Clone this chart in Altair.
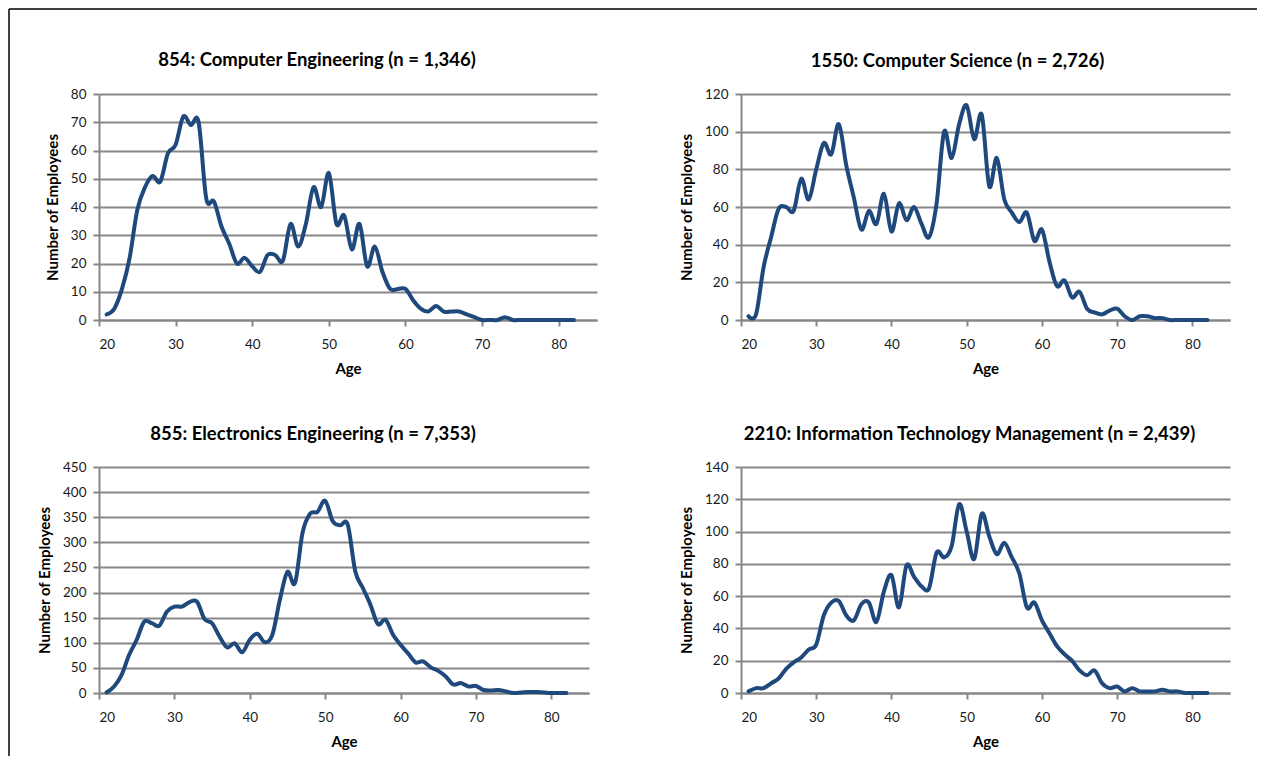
import altair as alt
import pandas as pd

# ---------------- data ----------------
AGES = [21, 22, 23, 24, 25, 26, 27, 28, 29, 30, 31, 32, 33, 34, 35, 36, 37, 38, 39, 40,
        41, 42, 43, 44, 45, 46, 47, 48, 49, 50, 51, 52, 53, 54, 55, 56, 57, 58, 59, 60,
        61, 62, 63, 64, 65, 66, 67, 68, 69, 70, 71, 72, 73, 74, 75, 76, 77, 78, 79, 80,
        81, 82]

COMP_ENG = [2, 4, 11, 22, 39, 47, 51, 49, 59, 62, 72, 69, 70, 43, 42, 33, 27, 20, 22, 19,
            17, 23, 23, 21, 34, 26, 34, 47, 40, 52, 34, 37, 25, 34, 19, 26, 17, 11, 11, 11,
            7, 4, 3, 5, 3, 3, 3, 2, 1, 0, 0, 0, 1, 0, 0, 0, 0, 0, 0, 0,
            0, 0]

COMP_SCI = [2, 3, 28, 44, 59, 60, 58, 75, 64, 80, 94, 88, 104, 82, 65, 48, 58, 51, 67, 47,
            62, 53, 60, 51, 44, 62, 100, 86, 104, 114, 96, 109, 71, 86, 64, 57, 52, 57, 42, 48,
            31, 18, 21, 12, 15, 6, 4, 3, 5, 6, 2, 0, 2, 2, 1, 1, 0, 0, 0, 0,
            0, 0]

ELEC_ENG = [1, 13, 36, 76, 106, 142, 139, 134, 162, 172, 172, 181, 182, 147, 139, 112, 91, 99, 81, 106,
            118, 101, 116, 186, 241, 219, 319, 357, 361, 383, 342, 334, 335, 242, 209, 176, 137, 146, 116, 96,
            79, 61, 63, 51, 44, 33, 17, 20, 13, 14, 6, 5, 6, 3, 0, 1, 2, 2, 1, 0,
            0, 0]

IT_MGMT = [1, 3, 3, 6, 9, 15, 19, 22, 27, 30, 48, 56, 57, 48, 45, 55, 56, 44, 63, 73,
           53, 79, 72, 66, 65, 87, 84, 91, 117, 100, 83, 111, 97, 86, 93, 84, 74, 53, 56, 45,
           37, 29, 24, 20, 14, 11, 14, 6, 3, 4, 1, 3, 1, 1, 1, 2, 1, 1, 0, 0,
           0, 0]

TITLES = [
    "854: Computer Engineering (n = 1,346)",
    "1550: Computer Science (n = 2,726)",
    "855: Electronics Engineering (n = 7,353)",
    "2210: Information Technology Management (n = 2,439)",
]
SERIES = [COMP_ENG, COMP_SCI, ELEC_ENG, IT_MGMT]
Y_MAX = [80, 120, 450, 140]
Y_STEP = [10, 20, 50, 20]
X_TICKS = [20, 30, 40, 50, 60, 70, 80]

# ---------------- styling ----------------
LINE_COLOR = "#1F497D"
GRID_COLOR = "#878787"
FONT = "Lato"
WIDTHS = [498, 489, 490, 489]
TITLE_DX = [-31, -28, -31, -16]
# first panel also holds the outer frame, which lifts its title: push it back down
TITLE_DY = [78.5, 0, 0, 0]
PLOT_H = 226


def panel(i):
    df = pd.DataFrame({"age": AGES, "count": SERIES[i]})
    ymax, ystep = Y_MAX[i], Y_STEP[i]
    yvals = list(range(0, ymax + 1, ystep))
    return (
        alt.Chart(df)
        .mark_line(interpolate="cardinal", color=LINE_COLOR, strokeWidth=4,
                   strokeCap="round", strokeJoin="round")
        .encode(
            x=alt.X("age:Q",
                    scale=alt.Scale(domain=[20, 85], nice=False, zero=False),
                    axis=alt.Axis(values=X_TICKS, title="Age", grid=False,
                                  labelPadding=11, titlePadding=11)),
            y=alt.Y("count:Q",
                    scale=alt.Scale(domain=[0, ymax], nice=False),
                    axis=alt.Axis(values=yvals, title="Number of Employees",
                                  grid=True, labelPadding=7, titlePadding=10)),
        )
    )


def with_title(ch, i):
    return ch.properties(
        width=WIDTHS[i],
        height=PLOT_H,
        title=alt.TitleParams(TITLES[i], fontSize=18.5, fontWeight="bold",
                              font=FONT, color="#000000", dx=TITLE_DX[i],
                              dy=TITLE_DY[i], offset=17, anchor="middle",
                              frame="group"),
    )


# outer black frame of the figure (drawn with the first panel, outside its plot area)
frame_src = pd.DataFrame({"k": [0]})
frame_left = alt.Chart(frame_src).mark_rule(color="#000000", strokeWidth=1.5).encode(
    x=alt.value(-90), y=alt.value(-85), y2=alt.value(662))
frame_top = alt.Chart(frame_src).mark_rule(color="#000000", strokeWidth=1.5).encode(
    x=alt.value(-90), x2=alt.value(1158), y=alt.value(-85))

panels = [with_title(alt.layer(panel(0), frame_left, frame_top), 0)]
panels += [with_title(panel(i), i) for i in range(1, 4)]

chart = (
    alt.concat(*panels, columns=2,
               spacing={"row": 147, "column": 144}, bounds="flush")
    .properties(padding={"left": 0, "top": 0, "right": 0, "bottom": 5},
                background="white")
    .configure_view(stroke=None)
    .configure_axis(
        domainColor=GRID_COLOR, domainWidth=2,
        tickColor=GRID_COLOR, tickWidth=2, tickSize=6,
        gridColor=GRID_COLOR, gridWidth=2,
        labelFont=FONT, labelFontSize=13.5, labelColor="#1a1a1a",
        titleFont=FONT, titleFontSize=15, titleFontWeight="bold", titleColor="#000000",
    )
)

chart.save("out.html", embed_options={"renderer": "svg", "actions": False})
